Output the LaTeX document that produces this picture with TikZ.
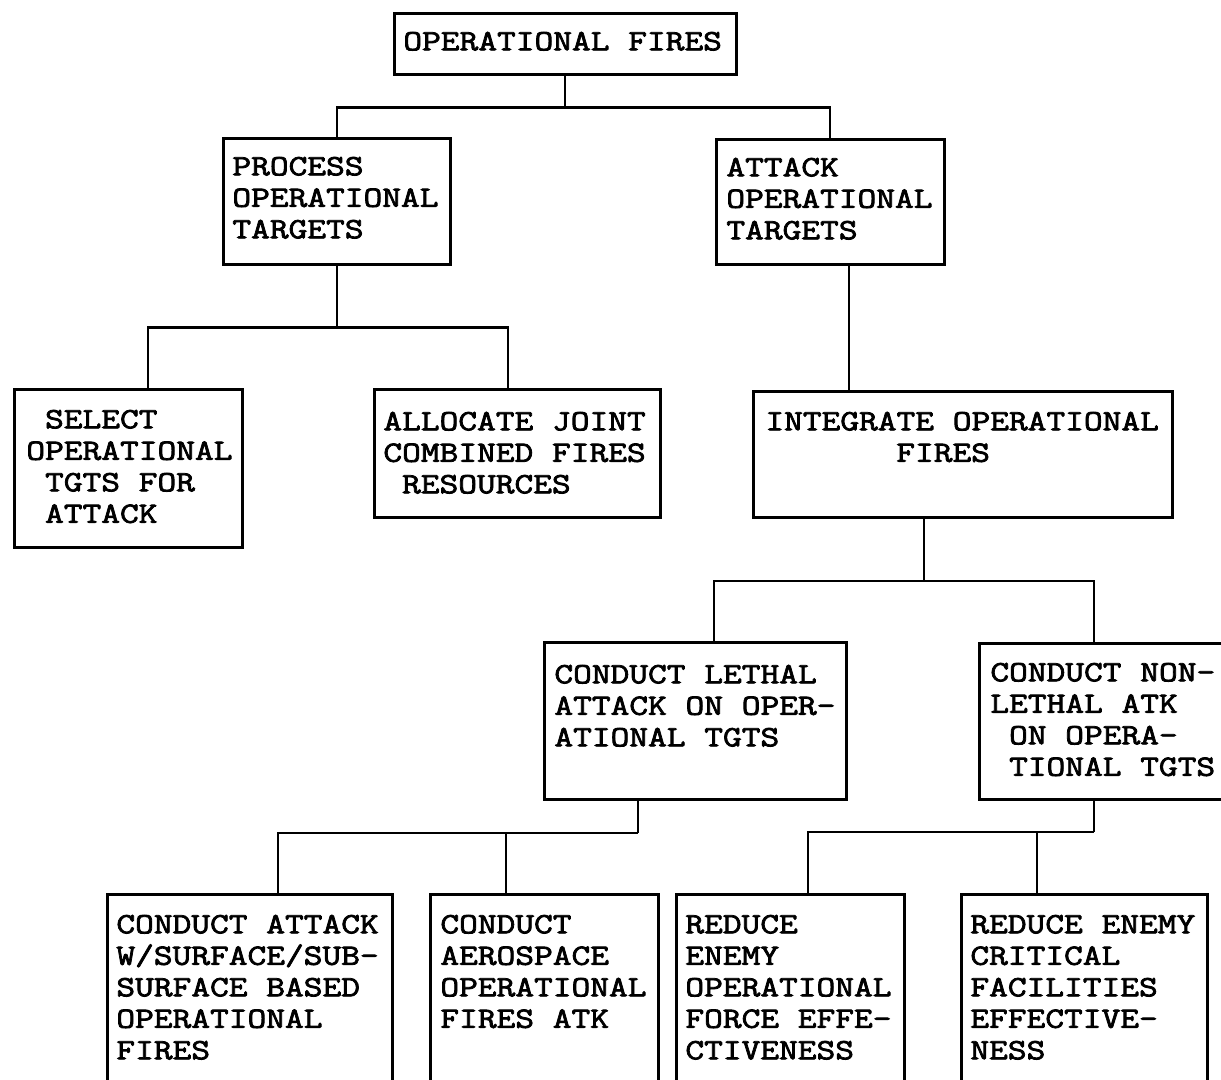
\documentclass[tikz,border=0pt]{standalone}
\usepackage{fontspec}
\newfontfamily\tw{Latin Modern Mono}[FakeStretch=1.235, FakeBold=2.6]
\newcommand\ind{\hspace*{9.35pt}}
\newcommand\lines[1]{\begin{tabular}{@{}l@{}}#1\end{tabular}}
\begin{document}
\begin{tikzpicture}[x=0.5pt,y=-0.5pt,
  box/.style={draw, line width=1.3pt, rectangle, inner sep=0pt, anchor=north west},
  txt/.style={inner sep=0pt, anchor=north west, font=\tw\fontsize{14.73pt}{15.75pt}\selectfont},
  conn/.style={line width=1.1pt}]
\useasboundingbox (0,0) rectangle (1221,1080);
\fill[white] (0,0) rectangle (1221,1080);
\clip (0,0) rectangle (1221,1080);

% boxes
\node[box, minimum width=171pt,   minimum height=30.5pt] (ofire) at (393,12) {};
\node[box, minimum width=113.5pt, minimum height=63pt]   (proc)  at (222,137) {};
\node[box, minimum width=114pt,   minimum height=62.5pt] (atk)   at (715,138) {};
\node[box, minimum width=114pt,   minimum height=79pt]   (sel)   at (13,388) {};
\node[box, minimum width=143pt,   minimum height=64pt]   (alloc) at (373,388) {};
\node[box, minimum width=209.5pt, minimum height=63pt]   (integ) at (752,390) {};
\node[box, minimum width=151pt,   minimum height=78.5pt] (leth)  at (543,641) {};
\node[box, minimum width=125pt,   minimum height=78pt]   (nonl)  at (978,642) {};
\node[box, minimum width=142.5pt, minimum height=100pt]  (ca)    at (106,893) {};
\node[box, minimum width=114pt,   minimum height=100pt]  (caero) at (429,893) {};
\node[box, minimum width=114pt,   minimum height=100pt]  (rdf)   at (675,893) {};
\node[box, minimum width=123pt,   minimum height=100pt]  (rdc)   at (960,893) {};

% texts
\node[txt] (ofire-t) at ([shift={(10,15.85)}]ofire.north west) {\lines{OPERATIONAL FIRES}};
\node[txt] (proc-t)  at ([shift={(10,15.85)}]proc.north west)  {\lines{PROCESS\\OPERATIONAL\\TARGETS}};
\node[txt] (atk-t)   at ([shift={(11,15.85)}]atk.north west)   {\lines{ATTACK\\OPERATIONAL\\TARGETS}};
\node[txt] (sel-t)   at ([shift={(13,17.85)}]sel.north west)   {\lines{\ind SELECT\\OPERATIONAL\\\ind TGTS FOR\\\ind ATTACK}};
\node[txt] (alloc-t) at ([shift={(10,19.85)}]alloc.north west) {\lines{ALLOCATE JOINT\\COMBINED FIRES\\\ind RESOURCES}};
\node[txt] (integ-t) at ([shift={(13,17.85)}]integ.north west) {\lines{INTEGRATE OPERATIONAL\\\hspace*{65.45pt}FIRES}};
\node[txt] (leth-t)  at ([shift={(11,19.85)}]leth.north west)  {\lines{CONDUCT LETHAL\\ATTACK ON OPER-\\ATIONAL TGTS}};
\node[txt] (nonl-t)  at ([shift={(12,16.85)}]nonl.north west)  {\lines{CONDUCT NON-\\LETHAL ATK\\\ind ON OPERA-\\\ind TIONAL TGTS}};
\node[txt] (ca-t)    at ([shift={(10,17.85)}]ca.north west)    {\lines{CONDUCT ATTACK\\W/SURFACE/SUB-\\SURFACE BASED\\OPERATIONAL\\FIRES}};
\node[txt] (caero-t) at ([shift={(11,17.85)}]caero.north west) {\lines{CONDUCT\\AEROSPACE\\OPERATIONAL\\FIRES ATK}};
\node[txt] (rdf-t)   at ([shift={(10,17.85)}]rdf.north west)   {\lines{REDUCE\\ENEMY\\OPERATIONAL\\FORCE EFFE-\\CTIVENESS}};
\node[txt] (rdc-t)   at ([shift={(10,17.85)}]rdc.north west)   {\lines{REDUCE ENEMY\\CRITICAL\\FACILITIES\\EFFECTIVE-\\NESS}};

% connectors
\draw[conn] (ofire.south) -- ++(0,32) coordinate (b1);
\draw[conn] (proc.north) |- (b1) -| (atk.north);

\draw[conn] (proc.south) -- ++(0,62) coordinate (b2);
\draw[conn] ([xshift=10pt]sel.north) |- (b2) -| ([xshift=-4.5pt]alloc.north);

\draw[conn] ([xshift=9.5pt]atk.south) -- ([xshift=-56.75pt]integ.north);

\draw[conn] ([xshift=-19.25pt]integ.south) -- ++(0,62) coordinate (b4);
\draw[conn] ([xshift=9.5pt]leth.north) |- (b4) -| ([xshift=-5pt]nonl.north);

\draw[conn] ([xshift=-28.5pt]leth.south) -- ++(0,32) coordinate (b5);
\draw[conn] ([xshift=14.25pt]ca.north) |- (b5);
\draw[conn] ([xshift=-19pt]caero.north) -- ([xshift=-19pt]caero.north |- b5);

\draw[conn] ([xshift=-5pt]nonl.south) -- ++(0,31) coordinate (b6);
\draw[conn] ([xshift=9pt]rdf.north) |- (b6);
\draw[conn] ([xshift=-23.5pt]rdc.north) -- ([xshift=-23.5pt]rdc.north |- b6);
\end{tikzpicture}
\end{document}
